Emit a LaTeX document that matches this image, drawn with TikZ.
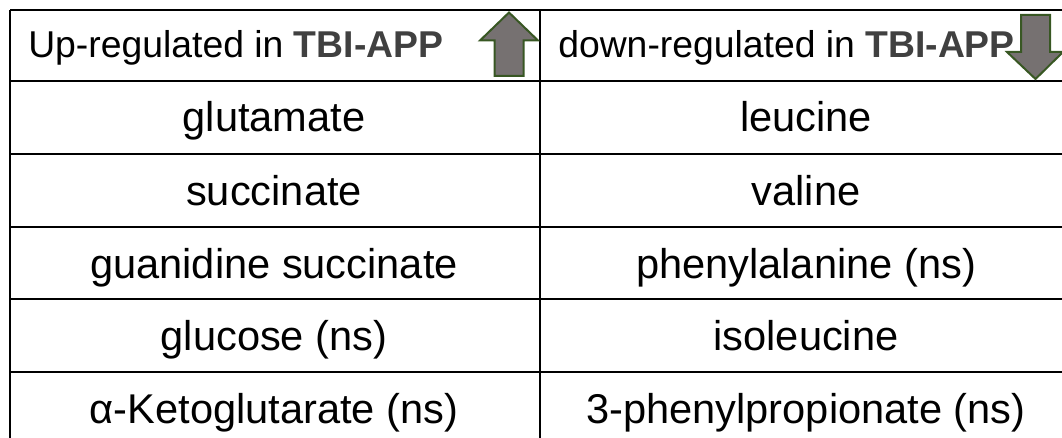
\documentclass[tikz,border=0pt]{standalone}
\usepackage{fontspec}
\setmainfont{Liberation Sans}
\definecolor{arrfill}{RGB}{118,113,113}
\definecolor{arrline}{RGB}{56,87,35}
\definecolor{tbi}{RGB}{64,64,64}
\begin{document}
\begin{tikzpicture}[x=0.75pt,y=-0.75pt,
  gridline/.style={line width=1.6pt,black},
  bigarrow/.style={fill=arrfill,draw=arrline,line width=1.5pt,line join=miter},
  hdr/.style={anchor=base west,inner sep=0pt,font=\fontsize{28}{31}\selectfont},
  cell/.style={anchor=base,inner sep=0pt,font=\fontsize{31.2}{36}\selectfont}]
\useasboundingbox (0,0) rectangle (1062,438);
% grid
\draw[gridline] (10,10) -- (1062,10);
\foreach \yy in {81,154,227,299,372} \draw[gridline] (10,\yy) -- (1062,\yy);
\draw[gridline] (10,10) -- (10,438);
\draw[gridline] (540,10) -- (540,438);
% header
\node[hdr] (h1) at (28,58) {Up-regulated in \textbf{\color{tbi}TBI-APP}};
\node[hdr] (h2) at (558,58) {down-regulated in \textbf{\color{tbi}TBI-APP}};
% arrows
\draw[bigarrow] (509,12.5) -- (538,40.5) -- (523.5,40.5) -- (523.5,76) -- (494.5,76) -- (494.5,40.5) -- (480,40.5) -- cycle;
\draw[bigarrow] (1021,15) -- (1050,15) -- (1050,52) -- (1063,52) -- (1035.5,79) -- (1007,52) -- (1021,52) -- cycle;
% body
\node[cell] (l1) at (274,132) {glutamate};
\node[cell] (l2) at (274,205) {succinate};
\node[cell] (l3) at (274,278) {guanidine succinate};
\node[cell] (l4) at (274,350) {glucose (ns)};
\node[cell] (l5) at (274,423) {α-Ketoglutarate (ns)};
\node[cell] (r1) at (806,132) {leucine};
\node[cell] (r2) at (806,205) {valine};
\node[cell] (r3) at (806,278) {phenylalanine (ns)};
\node[cell] (r4) at (806,350) {isoleucine};
\node[cell] (r5) at (806,423) {3-phenylpropionate (ns)};
\end{tikzpicture}
\end{document}
